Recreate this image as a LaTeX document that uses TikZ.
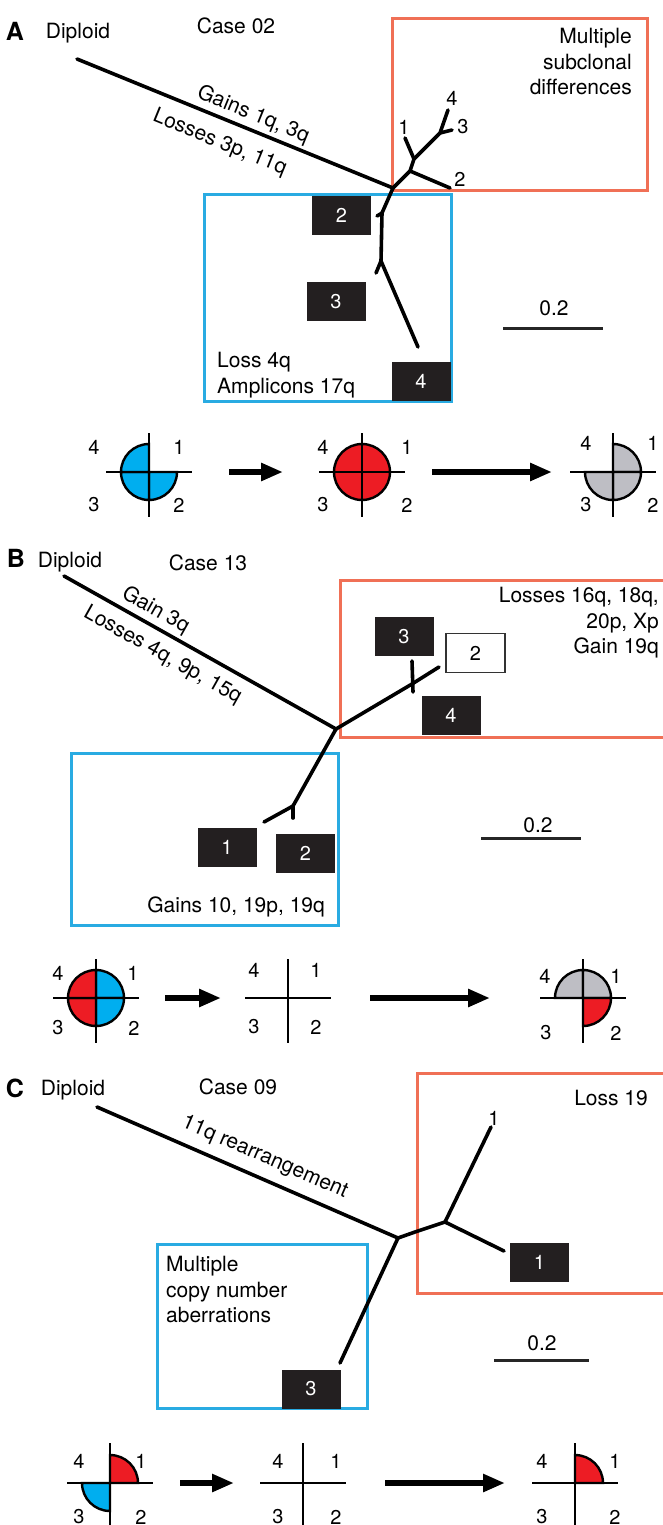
\documentclass[tikz,border=0pt]{standalone}
\usepackage{fontspec}
\setmainfont{TeX Gyre Heros}
\usepackage{xcolor}
\usepackage{tikz}
\usetikzlibrary{arrows.meta}

\definecolor{redbox}{RGB}{240,112,86}
\definecolor{bluebox}{RGB}{41,171,226}
\definecolor{bluefill}{RGB}{0,174,239}
\definecolor{redfill}{RGB}{237,28,36}
\definecolor{grayfill}{RGB}{190,190,196}
\definecolor{boxblack}{RGB}{35,31,32}

% one quarter of a copy-number circle: colour, centre, quadrant (1..4)
\newcommand{\quadsec}[3]{\filldraw[fill=#1,draw=black,line width=2.4pt] (#2) -- ++({90*#3+180}:28) arc[start angle={90*#3+180},delta angle=90,radius=28] -- cycle;}

\begin{document}
\begin{tikzpicture}[x=1pt,y=-1pt,
  lbl/.style={font=\fontsize{21}{25.5}\selectfont,inner sep=0pt},
  num/.style={font=\fontsize{20}{24}\selectfont,inner sep=0pt},
  panel/.style={font=\fontsize{25}{25}\selectfont\bfseries,inner sep=0pt},
  blk/.style={fill=boxblack,text=white,minimum width=59pt,minimum height=39pt,inner sep=0pt,font=\fontsize{20}{24}\selectfont},
  wht/.style={fill=white,draw=black!80,line width=1.6pt,minimum width=59pt,minimum height=39pt,inner sep=0pt,font=\fontsize{20}{24}\selectfont},
  branch/.style={line width=3.6pt,line join=round,line cap=round},
  redframe/.style={draw=redbox,line width=3pt},
  blueframe/.style={draw=bluebox,line width=3pt},
  scalebar/.style={line width=3pt,black!85},
  crossline/.style={line width=2.2pt},
  fatarrow/.style={line width=6.5pt,-{Triangle[length=22pt,width=17pt]}}]

  \useasboundingbox[fill=white] (0,0) rectangle (662,1525);

  % ---------------- A ----------------
  \draw[redframe] (392,19) rectangle (647,191);
  \draw[blueframe] (204,195) rectangle (451,401);

  \node[panel] (pA) at (15,31) {A};
  \node[lbl] (dipA) at (78,33) {Diploid};
  \node[lbl] (caseA) at (236,26) {Case 02};
  \node[lbl,align=right,anchor=north east] (multA) at (632,28) {Multiple\\subclonal\\differences};
  \node[lbl,align=left,anchor=north west] (lossA) at (217,352) {Loss 4q\\[0.5pt]Amplicons 17q};

  \node[blk] (bA2) at (341.5,215.5) {2};
  \node[blk] (bA3) at (336,301.5) {3};
  \node[blk] (bA4) at (421,381) {4};

  \coordinate (rA) at (77,59);
  \coordinate (jA) at (393,188);
  \coordinate (uA1) at (410,171);
  \coordinate (uA2) at (414,159);
  \coordinate (uA3) at (440,133);
  \coordinate (tA1) at (405,138);
  \coordinate (tA2) at (450,188);
  \coordinate (tA3) at (452,130);
  \coordinate (tA4) at (448,110);
  \coordinate (dA1) at (382,213);
  \coordinate (dA1t) at (377,216);
  \coordinate (dA2) at (381,261);
  \coordinate (dA3) at (376,273);
  \coordinate (dA4) at (418,347);

  \draw[branch] (rA) -- node[lbl,sloped,above=3pt,pos=0.54] (gainA) {Gains 1q, 3q}
                        node[lbl,sloped,below=12pt,pos=0.48] (lossesA) {Losses 3p, 11q} (jA);
  \draw[branch] (jA) -- (uA1) -- (uA2) -- (uA3) -- (tA4);
  \draw[branch] (uA1) -- (tA2);
  \draw[branch] (uA2) -- (tA1);
  \draw[branch] (uA3) -- (tA3);
  \draw[branch] (jA) -- (dA1) -- (dA2) -- (dA4);
  \draw[branch] (dA1) -- (dA1t);
  \draw[branch] (dA2) -- (dA3);

  \node[num] (lA4) at (452,98) {4};
  \node[num] (lA3) at (463,127) {3};
  \node[num] (lA1) at (404,127) {1};
  \node[num] (lA2) at (460,179) {2};

  \coordinate (sA1) at (503,328);
  \coordinate (sA2) at (603,328);
  \draw[scalebar] (sA1) -- (sA2);
  \node[lbl] (scA) at (554,308) {0.2};

  % copy number circles A
  \coordinate (cA1) at (149,472);
  \coordinate (cA2) at (362,472);
  \coordinate (cA3) at (613,472);
  \quadsec{bluefill}{cA1}{2}
  \quadsec{bluefill}{cA1}{3}
  \quadsec{bluefill}{cA1}{4}
  \filldraw[fill=redfill,draw=black,line width=2.4pt] (cA2) circle[radius=28];
  \quadsec{grayfill}{cA3}{1}
  \quadsec{grayfill}{cA3}{2}
  \quadsec{grayfill}{cA3}{3}
  \draw[crossline] (cA1) ++(-43,0) -- ++(86,0);
  \draw[crossline] (cA1) ++(0,-39) -- ++(0,84);
  \draw[crossline] (cA2) ++(-43,0) -- ++(86,0);
  \draw[crossline] (cA2) ++(0,-39) -- ++(0,84);
  \draw[crossline] (cA3) ++(-43,0) -- ++(86,0);
  \draw[crossline] (cA3) ++(0,-39) -- ++(0,84);

  \node[num] (qA14) at (94,447) {4};
  \node[num] (qA11) at (179,447) {1};
  \node[num] (qA13) at (94,505) {3};
  \node[num] (qA12) at (179,505) {2};
  \node[num] (qA24) at (323,447) {4};
  \node[num] (qA21) at (407,447) {1};
  \node[num] (qA23) at (323,505) {3};
  \node[num] (qA22) at (407,505) {2};
  \node[num] (qA34) at (586,443) {4};
  \node[num] (qA31) at (653,443) {1};
  \node[num] (qA33) at (586,505) {3};
  \node[num] (qA32) at (653,505) {2};

  \coordinate (aA1s) at (229,472);
  \coordinate (aA1e) at (283,472);
  \coordinate (aA2s) at (432,472);
  \coordinate (aA2e) at (552,472);
  \draw[fatarrow] (aA1s) -- (aA1e);
  \draw[fatarrow] (aA2s) -- (aA2e);

  % ---------------- B ----------------
  \draw[redframe] (340,580) rectangle (690,737);
  \draw[blueframe] (71,753) rectangle (338,925);

  \node[panel] (pB) at (16,558) {B};
  \node[lbl] (dipB) at (70,562) {Diploid};
  \node[lbl] (caseB) at (208,563) {Case 13};
  \node[lbl,align=right,anchor=north east] (lossesB2) at (659,587) {Losses 16q, 18q,\\20p, Xp\\Gain 19q};
  \node[lbl,anchor=east] (gainsB) at (325,907) {Gains 10, 19p, 19q};

  \node[blk] (bB3) at (404,636.5) {3};
  \node[wht] (bB2) at (475.5,653) {2};
  \node[blk] (bB4) at (451,715.5) {4};
  \node[blk] (bB1) at (227,847.5) {1};
  \node[blk] (bB2l) at (305.5,853) {2};

  \coordinate (rB) at (64,576);
  \coordinate (jB) at (336,729);
  \coordinate (uB1) at (412,684);
  \coordinate (tB2) at (439,667);
  \coordinate (tB3) at (412,661);
  \coordinate (tB3b) at (413,692);
  \coordinate (dB1) at (293,806);
  \coordinate (tB1) at (264,822);
  \coordinate (dB1s) at (293,818);

  \draw[branch] (rB) -- node[lbl,sloped,above=3pt,pos=0.31] (gainB) {Gain 3q}
                        node[lbl,sloped,below=9pt,pos=0.40] (lossesB) {Losses 4q, 9p, 15q} (jB);
  \draw[branch] (jB) -- (uB1) -- (tB2);
  \draw[branch] (tB3) -- (tB3b);
  \draw[branch] (jB) -- (dB1) -- (tB1);
  \draw[branch] (dB1) -- (dB1s);

  \coordinate (sB1) at (481,838);
  \coordinate (sB2) at (581,838);
  \draw[scalebar] (sB1) -- (sB2);
  \node[lbl] (scB) at (538,825) {0.2};

  % copy number circles B
  \coordinate (cB1) at (96,998);
  \coordinate (cB2) at (288,998);
  \coordinate (cB3) at (583,998);
  \quadsec{bluefill}{cB1}{1}
  \quadsec{bluefill}{cB1}{2}
  \quadsec{redfill}{cB1}{3}
  \quadsec{redfill}{cB1}{4}
  \quadsec{grayfill}{cB3}{4}
  \quadsec{grayfill}{cB3}{1}
  \quadsec{redfill}{cB3}{2}
  \draw[crossline] (cB1) ++(-43,0) -- ++(86,0);
  \draw[crossline] (cB1) ++(0,-39) -- ++(0,84);
  \draw[crossline] (cB2) ++(-43,0) -- ++(86,0);
  \draw[crossline] (cB2) ++(0,-39) -- ++(0,84);
  \draw[crossline] (cB3) ++(-43,0) -- ++(86,0);
  \draw[crossline] (cB3) ++(0,-39) -- ++(0,84);

  \node[num] (qB14) at (58,973) {4};
  \node[num] (qB11) at (133,973) {1};
  \node[num] (qB13) at (58,1028) {3};
  \node[num] (qB12) at (134,1028) {2};
  \node[num] (qB24) at (254,970) {4};
  \node[num] (qB21) at (316,970) {1};
  \node[num] (qB23) at (254,1027) {3};
  \node[num] (qB22) at (316,1027) {2};
  \node[num] (qB34) at (545,976) {4};
  \node[num] (qB31) at (616,976) {1};
  \node[num] (qB33) at (546,1033) {3};
  \node[num] (qB32) at (616,1033) {2};

  \coordinate (aB1s) at (165,998);
  \coordinate (aB1e) at (221,998);
  \coordinate (aB2s) at (370,998);
  \coordinate (aB2e) at (490,998);
  \draw[fatarrow] (aB1s) -- (aB1e);
  \draw[fatarrow] (aB2s) -- (aB2e);

  % ---------------- C ----------------
  \draw[redframe] (417,1073) rectangle (690,1293);
  \draw[blueframe] (157,1244) rectangle (367,1408);

  \node[panel] (pC) at (15,1088) {C};
  \node[lbl] (dipC) at (73,1090) {Diploid};
  \node[lbl] (caseC) at (238,1087) {Case 09};
  \node[lbl,anchor=east] (lossC) at (648,1098) {Loss 19};
  \node[lbl,align=left,anchor=north west] (multC) at (166,1256) {Multiple\\copy number\\aberrations};

  \node[blk] (bC1) at (539.5,1262.5) {1};
  \node[blk] (bC3) at (311,1389) {3};

  \coordinate (rC) at (97,1107);
  \coordinate (jC) at (398,1238);
  \coordinate (mC) at (415,1232);
  \coordinate (nC) at (445,1222);
  \coordinate (tC1) at (491,1127);
  \coordinate (tC2) at (504,1251);
  \coordinate (dC) at (340,1363);

  \draw[branch] (rC) -- node[lbl,sloped,above=9pt,pos=0.53] (rearrC) {11q rearrangement} (jC);
  \draw[branch] (jC) -- (mC) -- (nC) -- (tC1);
  \draw[branch] (nC) -- (tC2);
  \draw[branch] (jC) -- (dC);
  \node[num] (lC1) at (494,1118) {1};

  \coordinate (sC1) at (494,1360);
  \coordinate (sC2) at (589,1360);
  \draw[scalebar] (sC1) -- (sC2);
  \node[lbl] (scC) at (542,1343) {0.2};

  % copy number circles C
  \coordinate (cC1) at (110,1483);
  \coordinate (cC2) at (303,1483);
  \coordinate (cC3) at (575,1483);
  \quadsec{redfill}{cC1}{1}
  \quadsec{bluefill}{cC1}{3}
  \quadsec{redfill}{cC3}{1}
  \draw[crossline] (cC1) ++(-43,0) -- ++(86,0);
  \draw[crossline] (cC1) ++(0,-40) -- ++(0,90);
  \draw[crossline] (cC2) ++(-43,0) -- ++(86,0);
  \draw[crossline] (cC2) ++(0,-40) -- ++(0,90);
  \draw[crossline] (cC3) ++(-43,0) -- ++(86,0);
  \draw[crossline] (cC3) ++(0,-40) -- ++(0,90);

  \node[num] (qC14) at (79,1461) {4};
  \node[num] (qC11) at (141,1461) {1};
  \node[num] (qC13) at (79,1517) {3};
  \node[num] (qC12) at (141,1517) {2};
  \node[num] (qC24) at (278,1461) {4};
  \node[num] (qC21) at (336,1461) {1};
  \node[num] (qC23) at (278,1517) {3};
  \node[num] (qC22) at (336,1517) {2};
  \node[num] (qC34) at (542,1461) {4};
  \node[num] (qC31) at (615,1461) {1};
  \node[num] (qC33) at (542,1517) {3};
  \node[num] (qC32) at (615,1517) {2};

  \coordinate (aC1s) at (180,1483);
  \coordinate (aC1e) at (234,1483);
  \coordinate (aC2s) at (385,1483);
  \coordinate (aC2e) at (505,1483);
  \draw[fatarrow] (aC1s) -- (aC1e);
  \draw[fatarrow] (aC2s) -- (aC2e);
\end{tikzpicture}
\end{document}
